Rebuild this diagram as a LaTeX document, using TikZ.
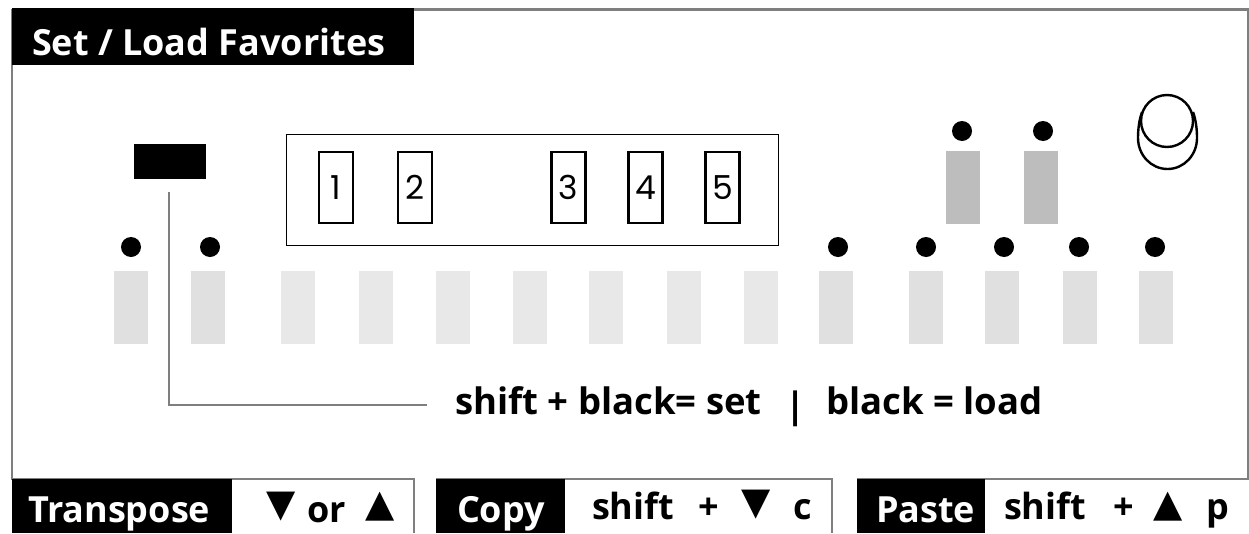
\documentclass[tikz,border=0pt]{standalone}
\usepackage{fontspec}
\setmainfont{Open Sans}
\newfontfamily\digitfont{Poppins}
\newfontfamily\symfont{DejaVu Sans}
\definecolor{framegray}{HTML}{7F7F7F}
\definecolor{keylight}{HTML}{E8E8E8}
\definecolor{keymid}{HTML}{E0E0E0}
\definecolor{keydark}{HTML}{BDBDBD}
\tikzset{
  lbl/.style={inner sep=0pt,outer sep=0pt,anchor=base west,font=\bfseries\fontsize{#1}{#1}\selectfont},
  lblw/.style={lbl=#1,text=white},
  keybox/.style={draw=none,fill=#1,minimum width=34pt,minimum height=73pt,inner sep=0pt,anchor=north},
  led/.style={circle,fill=black,draw=none,minimum size=20pt,inner sep=0pt},
  favbox/.style={draw=black,line width=2.4pt,fill=white,minimum width=34pt,minimum height=71pt,inner sep=0pt,anchor=north,
     font=\digitfont\fontsize{33}{33}\selectfont},
  thin frame/.style={draw=framegray,line width=1.6pt},
  sym/.style={inner sep=0pt,outer sep=0pt,font=\symfont\fontsize{38}{38}\selectfont},
}
\begin{document}
\begin{tikzpicture}[x=1pt,y=-1pt]
\useasboundingbox (0,0) rectangle (1249,533);
\fill[white] (0,0) rectangle (1249,533);
% frame
\draw[framegray,line width=3pt] (12,9) -- (1249,9);
\draw[framegray,line width=1.2pt] (12,9) -- (12,480);
\draw[framegray,line width=1.2pt] (1248,9) -- (1248,480);
% header
\fill[black] (12,8) rectangle (414,65);
\node[lblw=36] (title) at (32,55) {Set / Load Favorites};
% favourite key
\node[fill=black,draw=none,minimum width=72pt,minimum height=35pt,inner sep=0pt,anchor=north west] (blackkey) at (134,144) {};
% favourites box
\node[draw=black,line width=1.2pt,minimum width=492pt,minimum height=111pt,inner sep=0pt,anchor=north west] (favgroup) at (285.5,134) {};
\foreach \n/\x in {1/336,2/415,3/568.5,4/645.5,5/722.5}
  \node[favbox] (fav\n) at (\x,151) {\n};
% key row
\foreach \x/\c in {131/keymid,208/keymid,298/keylight,376/keylight,453/keylight,530/keylight,606/keylight,684/keylight,761/keylight,836/keymid,926/keymid,1002/keymid,1080/keymid,1156/keymid}
  \node[keybox=\c] (key\x) at (\x,271) {};
\foreach \x in {131,210,838,926,1004,1079,1155}
  \node[led] (led\x) at (\x,247) {};
% upper keys
\node[keybox=keydark] (upA) at (963,151) {};
\node[keybox=keydark] (upB) at (1041,151) {};
\node[led] (ledA) at (962,131) {};
\node[led] (ledB) at (1043,131) {};
% knob
\draw[black,line width=2.4pt] (1142,112) .. controls (1139,120) and (1138,130) .. (1138,138) .. controls (1138,155) and (1151,169) .. (1167.5,169) .. controls (1184,169) and (1197,155) .. (1197,138) .. controls (1197,130) and (1196,120) .. (1193,112);
\node[circle,draw=black,line width=2.4pt,minimum size=52pt,inner sep=0pt,fill=white] (knob) at (1167,121) {};
% label and leader
\node[lbl=36.5] (setlabel) at (455,414) {shift + black= set};
\node[lbl=36.5] (barlabel) at (785,418) {|};
\node[lbl=36.5] (loadlabel) at (826,414) {black = load};
\coordinate (leadstart) at (169,192);
\coordinate (leadend) at (427,405);
\draw[framegray,line width=1.5pt] (leadstart) |- (leadend);
% bottom bars
\draw[thin frame] (12,479) -- (414,479) -- (414,533);
\draw[thin frame] (436,479) -- (832,479) -- (832,533);
\draw[thin frame] (857,479) -- (1249,479);
\fill[black] (12,479) rectangle (232,533);
\fill[black] (436,479) rectangle (565,533);
\fill[black] (857,479) rectangle (985,533);
\node[lblw=36] (transpose) at (28,522) {Transpose};
\node[lblw=36] (copy) at (457,522) {Copy};
\node[lblw=36] (paste) at (876,522) {Paste};
\node[sym] (dnA) at (281,507) {▼};
\node[lbl=36] (ortext) at (307,522) {or};
\node[sym] (upC) at (380,507) {▲};
\node[lbl=36] (shiftA) at (592,519) {shift};
\node[lbl=36] (plusA) at (698,519) {+};
\node[sym] (dnB) at (756,505) {▼};
\node[lbl=36] (ctext) at (793,519) {c};
\node[lbl=36] (shiftB) at (1004,519) {shift};
\node[lbl=36] (plusB) at (1113,519) {+};
\node[sym] (upD) at (1168,507) {▲};
\node[lbl=36] (ptext) at (1206,519) {p};
\end{tikzpicture}
\end{document}
